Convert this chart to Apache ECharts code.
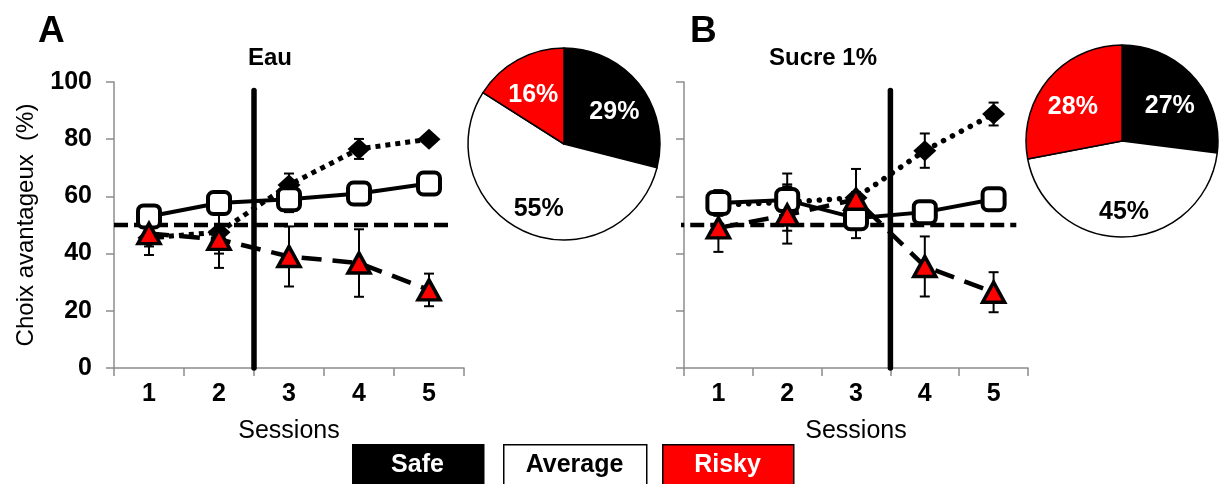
<!DOCTYPE html>
<html>
<head>
<meta charset="utf-8">
<script src="https://cdn.jsdelivr.net/npm/echarts@6/dist/echarts.min.js"></script>
<style>
  html, body { margin: 0; padding: 0; background: #fff; }
  #chart { width: 1222px; height: 484px; }
</style>
</head>
<body>
<div id="chart"></div>
<script>
// data
var sessions = ['1', '2', '3', '4', '5'];
var groups = ['Safe', 'Average', 'Risky'];
var yTicks = [0, 20, 40, 60, 80, 100];

var eauSafe = [45.5, 47.5, 64, 76.6, 80];
var eauSafeErr = [3, 7.5, 4, 3.5, 1];
var eauAverage = [53, 57.7, 59, 61, 64.5];
var eauAverageErr = [1, 1.5, 4.5, 1, 1];
var eauRisky = [47, 45, 39, 36.7, 27.3];
var eauRiskyErr = [7.5, 10, 10.5, 11.8, 5.7];

var sucreSafe = [57, 58, 59.5, 76, 88.8];
var sucreSafeErr = [3, 10, 2, 6, 4];
var sucreAverage = [57.7, 58.7, 52.4, 54.5, 59];
var sucreAverageErr = [4.5, 5.5, 7, 1, 1];
var sucreRisky = [49, 53.5, 59, 35.5, 26.5];
var sucreRiskyErr = [8.4, 10, 10.6, 10.5, 7];

var eauPie = [29, 55, 16];
var sucrePie = [27, 45, 28];

var chanceLevel = 50;
var FONT = 'Liberation Sans';

var chart = echarts.init(document.getElementById('chart'));

//turn a value array into [x, y] pairs on the hidden value axis
function pts(vals){
	return vals.map(function(v, i){ return [i + 1, v]; });
}
function errData(vals, errs){
	return vals.map(function(v, i){ return [i + 1, v - errs[i], v + errs[i]]; });
}
function renderErr(params, api){
	var x = api.value(0);
	var lo = api.coord([x, api.value(1)]);
	var hi = api.coord([x, api.value(2)]);
	var style = { stroke: '#000', lineWidth: 2 };
	return {
		type: 'group',
		children: [
			{ type: 'line', shape: { x1: lo[0], y1: lo[1], x2: hi[0], y2: hi[1] }, style: style },
			{ type: 'line', shape: { x1: lo[0] - 5, y1: lo[1], x2: lo[0] + 5, y2: lo[1] }, style: style },
			{ type: 'line', shape: { x1: hi[0] - 5, y1: hi[1], x2: hi[0] + 5, y2: hi[1] }, style: style }
		]
	};
}

function panelSeries(g, safe, safeErr, avg, avgErr, risky, riskyErr, splitAt, dashFrom, dotStyle){
	var xi = g * 2 + 1;
	var base = { xAxisIndex: xi, yAxisIndex: g, clip: false, animation: false };
	var list = [];
	//reference lines
	list.push(Object.assign({}, base, {
		type: 'line', data: [[splitAt, 0], [splitAt, 97]], symbol: 'none', z: 1,
		lineStyle: { color: '#000', width: 5.5, cap: 'round' }
	}));
	list.push(Object.assign({}, base, {
		type: 'line', data: [[dashFrom, chanceLevel], [5.33, chanceLevel]], symbol: 'none', z: 1,
		lineStyle: { color: '#000', width: 4.5, type: [14, 6] }
	}));
	//error bars
	[[safe, safeErr], [avg, avgErr], [risky, riskyErr]].forEach(function(p){
		list.push(Object.assign({}, base, {
			type: 'custom', renderItem: renderErr, data: errData(p[0], p[1]), z: 2
		}));
	});
	list.push(Object.assign({}, base, {
		type: 'line', name: 'Safe', data: pts(safe), z: 3,
		symbol: 'diamond', symbolSize: [23, 21],
		itemStyle: { color: '#000' },
		lineStyle: dotStyle
	}));
	list.push(Object.assign({}, base, {
		type: 'line', name: 'Average', data: pts(avg), z: 3,
		symbol: 'roundRect', symbolSize: 22,
		itemStyle: { color: '#fff', borderColor: '#000', borderWidth: 4 },
		lineStyle: { color: '#000', width: 4 }
	}));
	list.push(Object.assign({}, base, {
		type: 'line', name: 'Risky', data: pts(risky), z: 3,
		symbol: 'triangle', symbolSize: [22, 20],
		itemStyle: { color: '#ff0000', borderColor: '#000', borderWidth: 3.5 },
		lineStyle: { color: '#000', width: 4.5, type: [20, 11] }
	}));
	return list;
}

function pieSeries(vals, center){
	var colors = ['#000', '#fff', '#ff0000'];
	var txt = ['#fff', '#000', '#fff'];
	return {
		type: 'pie', center: center, radius: 96, startAngle: 90, animation: false,
		data: vals.map(function(v, i){
			return {
				name: groups[i], value: v,
				itemStyle: { color: colors[i], borderColor: '#000', borderWidth: 1.5 },
				label: { color: txt[i] }
			};
		}),
		label: {
			position: 'inside', formatter: '{c}%',
			fontFamily: FONT, fontWeight: 'bold', fontSize: 25
		},
		labelLine: { show: false },
		//push labels out a bit from the pie centre, like the original
		labelLayout: function(params){
			var r = params.labelRect;
			var cx = r.x + r.width / 2, cy = r.y + r.height / 2;
			return {
				x: center[0] + (cx - center[0]) * 1.25,
				y: center[1] + (cy - center[1]) * 1.25 + 7,
				align: 'center', verticalAlign: 'middle'
			};
		}
	};
}

var axisLine = { lineStyle: { color: '#8c8c8c', width: 1.5 } };
function yAxis(g, labels){
	return {
		type: 'value', gridIndex: g, min: 0, max: 100, interval: 20,
		axisLine: Object.assign({ show: true }, axisLine),
		axisTick: { show: true, length: 8, lineStyle: { color: '#8c8c8c', width: 1.5 } },
		splitLine: { show: false },
		axisLabel: {
			show: labels, margin: 22, color: '#000', fontFamily: FONT, fontWeight: 'bold', fontSize: 25,
			formatter: function(v){ return yTicks.indexOf(v) >= 0 ? String(v) : ''; }
		},
		name: labels ? 'Choix avantageux  (%)' : '', nameLocation: 'middle', nameGap: 76,
		nameTextStyle: { color: '#000', fontFamily: FONT, fontSize: 24 }
	};
}
function xAxes(g){
	return [{
		type: 'category', gridIndex: g, data: sessions, boundaryGap: true,
		axisLine: axisLine,
		axisTick: { show: true, length: 8, lineStyle: { color: '#8c8c8c', width: 1.5 } },
		axisLabel: { margin: 14, color: '#000', fontFamily: FONT, fontWeight: 'bold', fontSize: 25 },
		name: 'Sessions', nameLocation: 'middle', nameGap: 51,
		nameTextStyle: { color: '#000', fontFamily: FONT, fontSize: 25 }
	}, {
		type: 'value', gridIndex: g, min: 0.5, max: 5.5, show: false
	}];
}

//legend boxes under the panels
var boxX = [352, 503, 662];
var boxW = [131, 143, 131];
var boxFill = ['#000', '#fff', '#ff0000'];
var boxText = ['#fff', '#000', '#fff'];
var legendEls = [];
groups.forEach(function(name, i){
	legendEls.push({
		type: 'rect', left: boxX[i], top: 444,
		shape: { width: boxW[i], height: 44 },
		style: { fill: boxFill[i], stroke: '#000', lineWidth: 1.5 }
	});
	legendEls.push({
		type: 'text', x: boxX[i] + boxW[i] / 2, y: 465,
		style: {
			text: name, fill: boxText[i], fontFamily: FONT, fontWeight: 'bold', fontSize: 25,
			align: 'center', verticalAlign: 'middle'
		}
	});
});

var titleStyle = { color: '#000', fontFamily: FONT, fontWeight: 'bold', fontSize: 24 };
var option = {
	backgroundColor: '#fff',
	animation: false,
	title: [
		{ text: 'Eau', left: 270, top: 46, textAlign: 'center', textStyle: titleStyle, padding: 0 },
		{ text: 'Sucre 1%', left: 823, top: 46, textAlign: 'center', textStyle: titleStyle, padding: 0 },
		{ text: 'A', left: 38, top: 13, textStyle: Object.assign({}, titleStyle, { fontSize: 37 }), padding: 0 },
		{ text: 'B', left: 690, top: 13, textStyle: Object.assign({}, titleStyle, { fontSize: 37 }), padding: 0 }
	],
	grid: [
		{ left: 114, top: 82, width: 350, height: 286 },
		{ left: 684, top: 82, width: 344, height: 286 }
	],
	xAxis: xAxes(0).concat(xAxes(1)),
	yAxis: [yAxis(0, true), yAxis(1, false)],
	series: []
		.concat(panelSeries(0, eauSafe, eauSafeErr, eauAverage, eauAverageErr, eauRisky, eauRiskyErr,
			2.5, 0.5, { color: '#000', width: 5, type: [5, 5] }))
		.concat(panelSeries(1, sucreSafe, sucreSafeErr, sucreAverage, sucreAverageErr, sucreRisky, sucreRiskyErr,
			3.5, 0.3, { color: '#000', width: 5.5, type: [0.1, 10], cap: 'round' }))
		.concat([pieSeries(eauPie, [564, 144]), pieSeries(sucrePie, [1122, 141])]),
	graphic: legendEls
};
chart.setOption(option);
</script>
</body>
</html>
